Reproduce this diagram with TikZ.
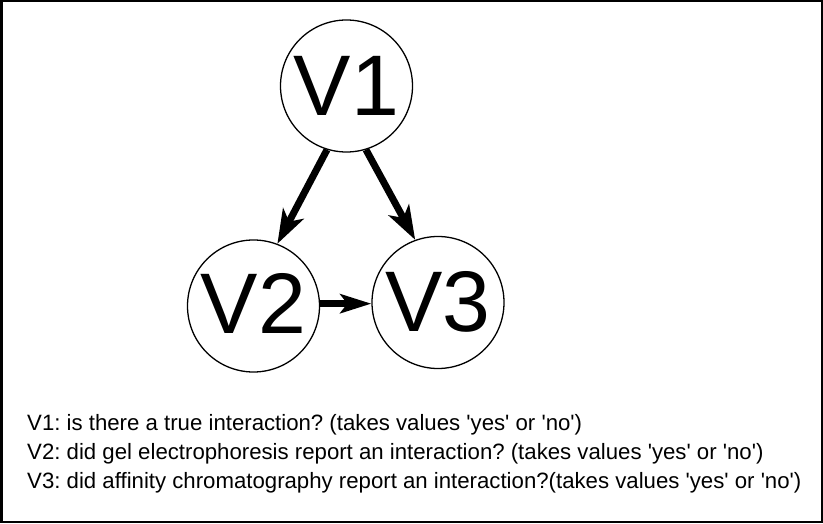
\documentclass[tikz,border=0pt]{standalone}
\usepackage{fontspec}
\setmainfont{Liberation Sans}
\usetikzlibrary{arrows.meta}
\begin{document}
\frenchspacing
\begin{tikzpicture}[x=1pt,y=1pt,
  var/.style={circle,draw,line width=1.3pt,minimum size=132pt,inner sep=0pt,
    font=\fontsize{86}{86}\selectfont},
  bigarrow/.style={line width=7pt,-{Stealth[length=34pt,width=23pt,inset=9pt]}},
  smallarrow/.style={line width=6.5pt,-{Stealth[length=31pt,width=19pt,inset=7pt]}},
  legend/.style={anchor=base west,inner sep=0pt,font=\fontsize{22.2}{22.2}\selectfont}]
\useasboundingbox (0,0) rectangle (823,523);
\draw[line width=2.5pt] (1.25,1.25) rectangle (821.75,521.75);
\node[var] (v1) at (346.5,437) {V1};
\node[var] (v2) at (253.5,217) {\raisebox{5pt}{V2}};
\node[var] (v3) at (438,220.5) {\raisebox{3pt}{V3}};
\draw[bigarrow] (v1.253.8) -- (v2.69.5);
\draw[bigarrow] (v1.287.3) -- (v3.110.8);
\draw[smallarrow] (v2.2) -- (v2.2 -| v3.west);
\node[legend] (t1) at (27,93) {V1: is there a true interaction? (takes values \textquotesingle yes\textquotesingle{} or \textquotesingle no\textquotesingle)};
\node[legend] (t2) at (27,64) {V2: did gel electrophoresis report an interaction? (takes values \textquotesingle yes\textquotesingle{} or \textquotesingle no\textquotesingle)};
\node[legend] (t3) at (27,35) {V3: did affinity chromatography report an interaction?(takes values \textquotesingle yes\textquotesingle{} or \textquotesingle no\textquotesingle)};
\end{tikzpicture}
\end{document}
